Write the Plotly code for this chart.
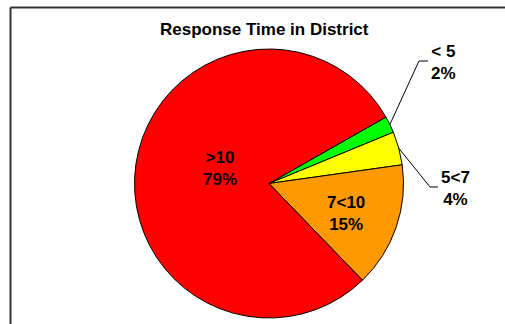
import numpy as np
import plotly.graph_objects as go

# Response time bands and their share of calls (%)
bands = ["< 5", "5<7", "7<10", ">10"]
shares = [2, 4, 15, 79]
colors = ["#00FF00", "#FFFF00", "#FF9900", "#FF0000"]

W, H = 505, 324
CX, CY, R = 269, 183.5, 134.5   # pie centre and radius in pixels
START = 60.4                    # first slice starts this many degrees clockwise from 12 o'clock


def px(x):
    return x / W


def py(y):
    return 1 - y / H


def esc(s):
    return s.replace("<", "&lt;").replace(">", "&gt;")


fig = go.Figure(go.Pie(
    labels=bands,
    values=shares,
    sort=False,
    direction="clockwise",
    rotation=START,
    marker=dict(colors=colors, line=dict(color="black", width=1)),
    textinfo="none",
    hoverinfo="label+percent",
    domain=dict(x=[px(CX - R), px(CX + R)], y=[py(CY + R), py(CY - R)]),
    showlegend=False,
))

# mid-angle of every slice (degrees, counter-clockwise from 3 o'clock)
fracs = np.array(shares, dtype=float) / sum(shares)
start_ccw = 90 - START
ends = start_ccw - np.cumsum(fracs) * 360
starts = ends + fracs * 360
mids = (starts + ends) / 2

# label placement (pixels) and whether a leader line is drawn
label_pos = {
    "< 5": (443, 63),
    "5<7": (455, 188),
    "7<10": (346, 213),
    ">10": (220, 168),
}
leader_elbow = {
    "< 5": [(419, 61), (428, 61)],
    "5<7": [(430, 187), (438, 187)],
}

font = dict(family="Liberation Sans, Arial, sans-serif", size=17, color="black", weight="bold")

annotations = []
shapes = []
for band, share, mid in zip(bands, shares, mids):
    lx, ly = label_pos[band]
    annotations.append(dict(
        x=px(lx), y=py(ly), xref="paper", yref="paper",
        text=f"{esc(band)}<br>{share}%", showarrow=False,
        xanchor="center", yanchor="middle", align="center", font=font,
    ))
    if band in leader_elbow:
        a = np.radians(mid)
        ex, ey = CX + R * np.cos(a), CY - R * np.sin(a)
        pts = [(ex, ey)] + leader_elbow[band]
        path = "M " + " L ".join(f"{px(x):.5f},{py(y):.5f}" for x, y in pts)
        shapes.append(dict(type="path", xref="paper", yref="paper", path=path,
                           line=dict(color="black", width=1)))

# chart frame (top and left edges visible)
frame = dict(color="#333333", width=2)
shapes.append(dict(type="line", xref="paper", yref="paper",
                   x0=px(10.5), x1=px(505), y0=py(7.5), y1=py(7.5), line=frame))
shapes.append(dict(type="line", xref="paper", yref="paper",
                   x0=px(10.5), x1=px(10.5), y0=py(7.5), y1=py(324), line=frame))

annotations.append(dict(
    x=px(264), y=py(30), xref="paper", yref="paper",
    text="Response Time in District", showarrow=False,
    xanchor="center", yanchor="middle", font=font,
))

fig.update_layout(
    width=W, height=H,
    margin=dict(l=0, r=0, t=0, b=0),
    paper_bgcolor="white", plot_bgcolor="white",
    annotations=annotations, shapes=shapes,
)

fig.write_html("out.html")
